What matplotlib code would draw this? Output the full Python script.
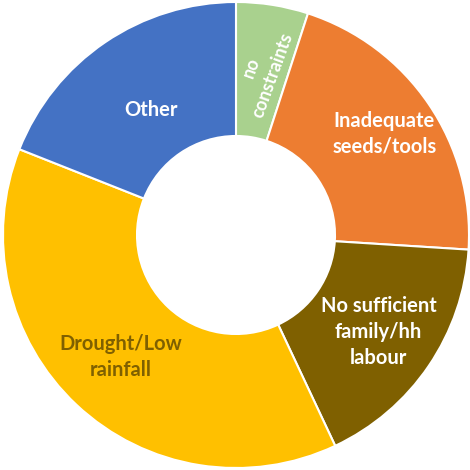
import matplotlib
matplotlib.use("Agg")
import matplotlib.pyplot as plt
import numpy as np

categories = ["no\nconstraints", "Inadequate\nseeds/tools", "No sufficient\nfamily/hh\nlabour",
              "Drought/Low\nrainfall", "Other"]
values = [5, 21, 17, 38, 19]
colors = ["#A9D18E", "#ED7D31", "#7F6000", "#FFC000", "#4472C4"]
text_colors = ["white", "white", "white", "#7F6000", "white"]
label_radius = [0.71, 0.77, 0.74, 0.72, 0.65]
label_rotation = [70, 0, 0, 0, 0]
label_size = [13, 14.5, 14.5, 14.5, 14.5]

fig = plt.figure(figsize=(4.7, 4.7), dpi=100)
ax = fig.add_axes([3 / 470, 2 / 470, 466 / 470, 466 / 470])
wedges, _ = ax.pie(values, colors=colors, startangle=90, counterclock=False, radius=1,
                   wedgeprops=dict(width=1 - 99 / 233, edgecolor="white", linewidth=1.5))
for w, lab, tc, rr, rot, fs in zip(wedges, categories, text_colors, label_radius,
                                   label_rotation, label_size):
    mid = np.deg2rad((w.theta1 + w.theta2) / 2)
    ax.text(rr * np.cos(mid), rr * np.sin(mid), lab, ha="center", va="center",
            color=tc, fontsize=fs, fontweight="bold", family="Lato",
            rotation=rot, linespacing=1.35, multialignment="center")
ax.set_xlim(-1, 1)
ax.set_ylim(-1, 1)
ax.set_aspect("equal")
ax.axis("off")
fig.savefig("out.png", dpi=100, facecolor="white")
